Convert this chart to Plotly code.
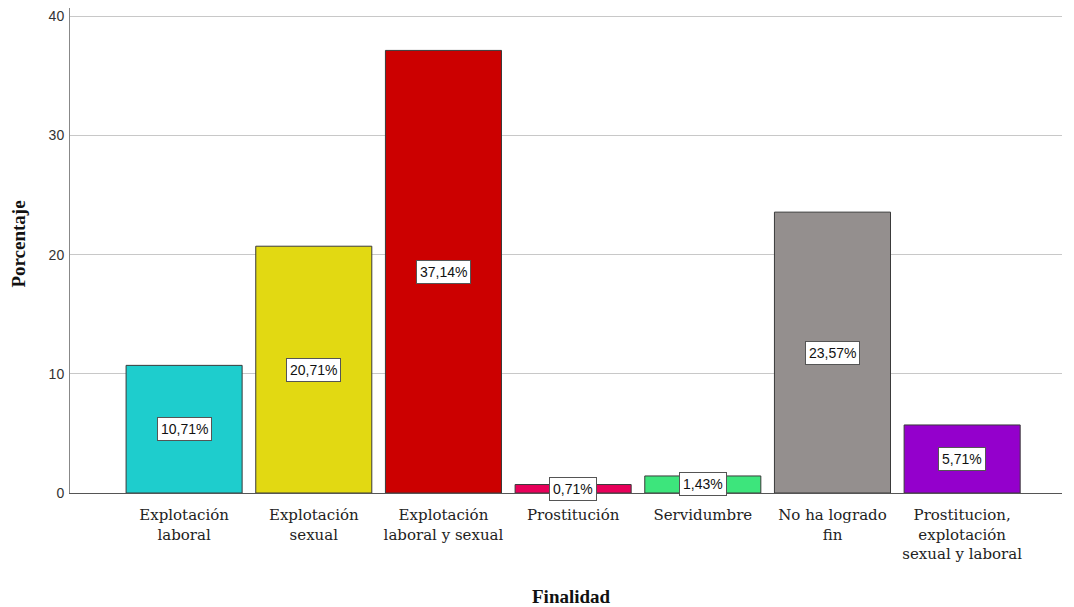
import plotly.graph_objects as go

categories = ["Explotación<br>laboral", "Explotación<br>sexual", "Explotación<br>laboral y sexual",
              "Prostitución", "Servidumbre", "No ha logrado<br>fin",
              "Prostitucion,<br>explotación<br>sexual y laboral"]
values = [10.71, 20.71, 37.14, 0.71, 1.43, 23.57, 5.71]
labels = ["10,71%", "20,71%", "37,14%", "0,71%", "1,43%", "23,57%", "5,71%"]
colors = ["#1ECDCD", "#E2D912", "#CC0000", "#E8005A", "#3DE57C", "#948F8E", "#9400CC"]

x = list(range(len(categories)))
fig = go.Figure()
fig.add_trace(go.Bar(x=x, y=values, marker=dict(color=colors, line=dict(color="#3a3a3a", width=1)),
                     width=0.895, hoverinfo="skip"))

for xi, v, lab in zip(x, values, labels):
    fig.add_annotation(x=xi, y=v / 2, text=lab, showarrow=False,
                       font=dict(family="Arial, Liberation Sans", size=14, color="#111"),
                       bgcolor="white", bordercolor="#555", borderwidth=1, borderpad=3)

fig.add_annotation(xref="paper", yref="paper", x=0.506, y=-0.214, yanchor="middle", xanchor="center",
                   text="<b>Finalidad</b>", showarrow=False,
                   font=dict(family="Liberation Serif", size=19, color="#111"))
fig.add_annotation(xref="paper", yref="paper", x=-0.052, y=0.513, xanchor="center", yanchor="middle",
                   text="<b>Porcentaje</b>", showarrow=False, textangle=-90,
                   font=dict(family="Liberation Serif", size=19, color="#111"))

fig.update_layout(
    width=1066, height=599, plot_bgcolor="white", paper_bgcolor="white",
    margin=dict(l=62, r=12, t=0, b=114), showlegend=False,
    xaxis=dict(tickmode="array", tickvals=x, ticktext=categories, range=[-0.88, 6.77],
               showline=True, linecolor="#555", linewidth=1, showgrid=False, ticks="",
               automargin=False, ticklabelstandoff=8,
               tickfont=dict(family="DejaVu Serif", size=15, color="#222")),
    yaxis=dict(range=[0, 40.7], tickvals=[0, 10, 20, 30, 40], showline=True, linecolor="#888",
               linewidth=1, showgrid=True, gridcolor="#C8C8C8", gridwidth=1, zeroline=False, ticks="",
               automargin=False, ticklabelstandoff=2,
               tickfont=dict(family="Arial, Liberation Sans", size=14, color="#333")),
)
fig.write_html("out.html")
